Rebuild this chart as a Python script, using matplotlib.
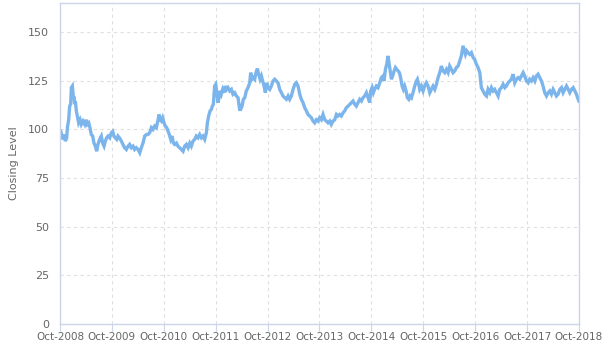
import numpy as np
import matplotlib
matplotlib.use("Agg")
import matplotlib.pyplot as plt
import matplotlib.dates as mdates

# Days after 1 Oct 2008 and the closing level
days = [5, 14, 21, 28, 38, 47, 52, 61, 68, 75, 80, 87, 94, 99, 103, 108, 115, 122,
        131, 141, 150, 162, 174, 183, 192, 202, 211, 220, 230, 239, 249, 258, 267,
        279, 291, 300, 310, 319, 328, 338, 350, 361, 371, 380, 389, 399, 408, 418,
        432, 443, 455, 467, 479, 490, 502, 514, 525, 537, 549, 561, 572, 584, 596,
        608, 619, 631,
        643, 654, 666, 678, 690, 697, 704, 713, 722, 732, 741, 751, 760, 769, 779,
        788, 798, 807, 819, 830, 842, 854, 866, 877, 889, 901, 913, 924, 936, 948,
        959, 971, 983, 995, 1006, 1018, 1030, 1037, 1046, 1056, 1065, 1072, 1079,
        1088, 1096, 1103, 1112, 1119, 1126, 1135, 1145, 1154, 1164, 1173, 1182,
        1194, 1206, 1217, 1229, 1241, 1253, 1264,
        1271, 1281, 1290, 1300, 1311, 1323, 1335, 1342, 1351, 1361, 1370, 1379,
        1389, 1398, 1408, 1417, 1426, 1436, 1445, 1454, 1464, 1476, 1487, 1499,
        1511, 1522, 1534, 1546, 1558, 1569, 1581, 1593, 1605, 1616, 1628, 1640,
        1652, 1663, 1675, 1687, 1698, 1710, 1722, 1734, 1745, 1757, 1769, 1781,
        1792, 1804, 1816, 1827, 1839, 1851, 1863, 1874, 1886, 1898,
        1909, 1921, 1933, 1945, 1956, 1968, 1980, 1992, 2003, 2015, 2027, 2039,
        2050, 2062, 2074, 2085, 2097, 2109, 2121, 2132, 2144, 2156, 2168, 2179,
        2186, 2196, 2205, 2214, 2226, 2238, 2250, 2261, 2273, 2280, 2290, 2299,
        2308, 2315, 2322, 2332, 2341, 2351, 2360, 2369, 2379, 2388, 2397, 2407,
        2416, 2425, 2435, 2444, 2454, 2463, 2473, 2484, 2496, 2508, 2515, 2524, 2531,
        2543, 2555, 2566, 2578, 2590, 2602, 2613, 2625, 2637, 2649, 2660, 2672,
        2684, 2695, 2707, 2719, 2731, 2742, 2754, 2766, 2778, 2789, 2801, 2813,
        2824, 2836, 2843, 2853, 2862, 2871, 2883, 2895, 2907, 2918, 2930, 2942,
        2954, 2961, 2965, 2977, 2989, 3001, 3012, 3024, 3036, 3048, 3059, 3071,
        3083, 3094, 3106, 3118, 3130, 3141, 3153, 3165,
        3176, 3188, 3200, 3212, 3223, 3235, 3247, 3259, 3270, 3282, 3294, 3305,
        3317, 3329, 3341, 3352, 3364, 3376, 3388, 3399, 3411, 3423, 3435, 3446,
        3458, 3470, 3482, 3493, 3505, 3517, 3529, 3540, 3552, 3564, 3576, 3587,
        3599, 3611, 3623, 3634, 3646, 3651]

closing = [99.1, 96.6, 94.9, 97.4, 94.0, 95.7, 100.9, 105.0, 112.0, 113.0, 121.5,
           122.3, 116.3, 117.0, 113.0, 114.6, 109.5, 106.9, 103.4, 105.0, 102.6,
           104.3, 102.6, 105.0, 102.6, 103.4, 100.9, 97.4, 96.6, 93.0, 91.4, 88.8,
           92.3, 94.9, 96.6, 93.0, 91.4, 94.0, 95.7, 96.6, 95.7, 98.3, 99.0, 96.6,
           95.7, 94.9, 96.6, 95.7, 94.0, 92.3, 90.6, 89.7, 91.4, 92.3, 90.6, 91.4,
           89.7, 90.6, 89.7, 88.0, 90.6, 93.0, 96.6, 97.4, 97.4, 98.3,
           100.9, 100.0, 101.7, 100.9, 105.0, 107.7, 105.0, 104.3, 106.0, 103.4,
           101.7, 100.9, 99.1, 97.4, 94.9, 96.6, 93.0, 92.3, 93.0, 91.4, 90.6,
           89.7, 88.8, 91.4, 92.3, 90.6, 93.0, 91.4, 94.0, 94.9, 96.6, 95.7, 97.4,
           95.7, 96.6, 94.9, 98.3, 103.4, 106.9, 109.5, 110.3, 112.0, 112.9, 122.3,
           123.2, 118.9, 113.8, 116.3, 119.8, 118.1, 120.6, 118.9, 122.3, 120.6,
           121.5, 119.8, 120.6, 118.1, 118.9, 117.2, 116.3, 110.3,
           110.3, 112.0, 115.5, 116.3, 119.8, 121.5, 124.0, 129.2, 125.8, 126.6,
           125.8, 129.2, 131.3, 128.4, 125.8, 127.5, 124.9, 122.3, 118.9, 124.0,
           121.5, 120.6, 122.3, 124.9, 125.8, 124.9, 124.0, 120.6, 118.9, 117.2,
           116.3, 115.5, 117.2, 115.5, 117.2, 120.6, 123.2, 124.0, 122.3, 118.1,
           115.5, 113.8, 111.2, 109.5, 107.7, 106.9, 106.0, 104.3, 103.4, 105.0,
           104.3, 106.0, 105.0, 107.7, 105.0, 104.3, 103.4, 104.3,
           102.6, 104.3, 105.0, 107.7, 106.9, 107.7, 106.9, 108.6, 109.5, 111.2,
           112.0, 112.9, 113.8, 114.6, 112.9, 112.0, 113.8, 115.5, 114.6, 116.3,
           117.2, 118.9, 116.3, 113.8, 119.8, 121.5, 118.9, 120.6, 122.3, 121.5,
           124.0, 126.6, 127.5, 124.9, 130.9, 133.5, 137.8, 134.4, 130.9, 125.8,
           127.5, 130.1, 131.8, 130.9, 130.1, 129.2, 126.6, 122.3, 120.6, 122.3,
           119.8, 116.3, 115.5, 117.2, 116.3, 118.9, 122.3, 124.9, 125.8, 123.2, 120.6,
           122.3, 119.8, 122.3, 124.0, 122.3, 118.9, 120.6, 122.3, 120.6, 123.2,
           126.6, 129.2, 132.6, 130.1, 129.2, 130.9, 129.2, 132.6, 130.9, 129.2,
           130.1, 131.8, 132.6, 135.2, 137.8, 143.0, 141.2, 138.6, 140.4, 139.5,
           138.6, 139.5, 136.9, 136.0, 133.5, 131.8, 129.2, 124.0, 121.5, 119.8,
           118.1, 117.2, 120.6, 118.9, 121.5, 119.8, 120.6, 118.9, 117.2, 120.6,
           121.5, 123.2, 121.5, 122.3, 124.0, 124.9,
           125.8, 128.4, 124.0, 125.8, 126.6, 125.8, 127.5, 129.2, 127.5, 124.9,
           124.0, 125.8, 124.9, 126.6, 124.9, 127.5, 128.4, 126.6, 124.9, 122.3,
           118.9, 117.2, 118.9, 119.8, 118.1, 120.6, 118.9, 117.2, 118.1, 120.6,
           121.5, 118.9, 120.6, 122.3, 120.6, 118.9, 120.6, 121.5, 119.8, 118.1,
           115.5, 114.6]

y_ticks = [0, 25, 50, 75, 100, 125, 150]
tick_years = list(range(2008, 2019))

start = np.datetime64("2008-10-01")
dates = start + np.array(days).astype("timedelta64[D]")

fig = plt.figure(figsize=(6.03, 3.48), dpi=100)
ax = fig.add_axes([60 / 603, 24 / 348, 519 / 603, 321 / 348])

ax.plot(dates, closing, color="#7cb5ec", linewidth=2.4, solid_joinstyle="miter")

ax.set_xlim(np.datetime64("2008-10-01"), np.datetime64("2018-10-01"))
ax.set_ylim(0, 165)
ax.set_yticks(y_ticks)
ax.set_xticks([np.datetime64("%d-10-01" % y) for y in tick_years])
ax.xaxis.set_major_formatter(mdates.DateFormatter("%b-%Y"))

ax.grid(True, color="#e0e0e0", linestyle=(0, (3, 3)), linewidth=0.8)
ax.set_axisbelow(True)
for s in ax.spines.values():
    s.set_color("#ccd6eb")
    s.set_linewidth(1)

ax.tick_params(axis="y", length=0, labelsize=8, labelcolor="#666666", pad=8)
ax.tick_params(axis="x", length=5, color="#ccd6eb", labelsize=7.5,
               labelcolor="#666666", pad=1)
ax.set_ylabel("Closing Level", fontsize=8, color="#666666", labelpad=6)

fig.savefig("out.png", dpi=100)
